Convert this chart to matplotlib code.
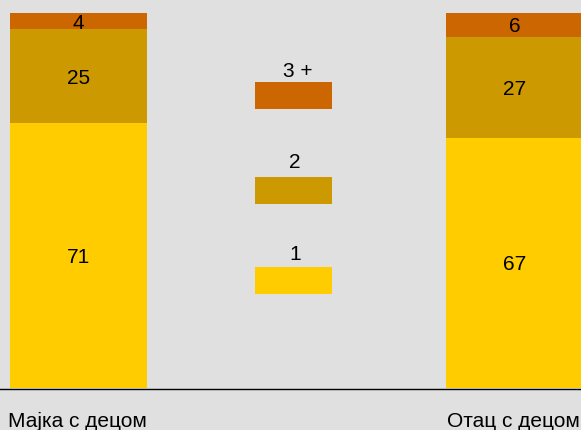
import matplotlib
matplotlib.use("Agg")
import matplotlib.pyplot as plt
from matplotlib.patches import Rectangle
from matplotlib.transforms import offset_copy

categories = ["Мајка с децом", "Отац с децом"]
series_names = ["1", "2", "3 +"]
values_1 = [70.6, 66.7]
values_2 = [25.1, 26.9]
values_3 = [4.3, 6.4]
colors = ["#FFCC00", "#CC9900", "#CC6600"]

W, H = 581, 430
plt.rcParams['font.family'] = ['Liberation Sans', 'DejaVu Sans']
FS = 15
fig = plt.figure(figsize=(W / 100, H / 100), dpi=100)
fig.patch.set_facecolor("#E0E0E0")

top_px, bot_px = 13, 388
ax = fig.add_axes([0, (H - bot_px) / H, 1, (bot_px - top_px) / H])
ax.set_facecolor("#E0E0E0")
for s in ax.spines.values():
    s.set_visible(False)
ax.set_xticks([])
ax.set_yticks([])

c0, c1 = 78.5, 514.5
unit = c1 - c0
ax.set_xlim(-c0 / unit, (W - c0) / unit)
ax.set_ylim(0, 100)
bw = 137 / unit
x = [0, 1]

# half digit height in points, to put the baseline so digits are centered
half_digit_pt = 0.358 * FS
tr_digits = offset_copy(ax.transData, fig=fig, x=0, y=-half_digit_pt, units="points")

series = [values_1, values_2, values_3]
bottom = [0, 0]
for vals, col in zip(series, colors):
    ax.bar(x, vals, bw, bottom=bottom, color=col, edgecolor="none")
    for xi, v, b in zip(x, vals, bottom):
        ax.text(xi, b + v / 2, f"{round(v)}", ha="center", va="baseline",
                fontsize=FS, color="black", transform=tr_digits)
    bottom = [b + v for b, v in zip(bottom, vals)]

# legend (layout positions in pixels)
lx = (293.5 - c0) / unit
lw = 77 / unit
rect_top_px = [267, 177, 82]
label_x_px = [295, 294.5, 298]
label_base_px = [259.5, 167.5, 76.7]
for name, col, rt, lxp, lb in zip(series_names, colors, rect_top_px, label_x_px, label_base_px):
    rb = (bot_px - rt - 26.7) / 3.75
    ax.add_patch(Rectangle((lx - lw / 2, rb), lw, 26.7 / 3.75, facecolor=col, edgecolor="none"))
    fig.text(lxp / W, 1 - lb / H, name, ha="center", va="baseline", fontsize=FS, color="black")

# baseline
fig.add_artist(plt.Line2D([0, 1], [(H - 389) / H] * 2, color="black", lw=1))

# category labels
for cx, cat in zip([8, 447], categories):
    fig.text(cx / W, 1 - 427 / H, cat, ha="left", va="baseline", fontsize=FS, color="black")

fig.savefig("out.png", dpi=100, facecolor=fig.get_facecolor())
